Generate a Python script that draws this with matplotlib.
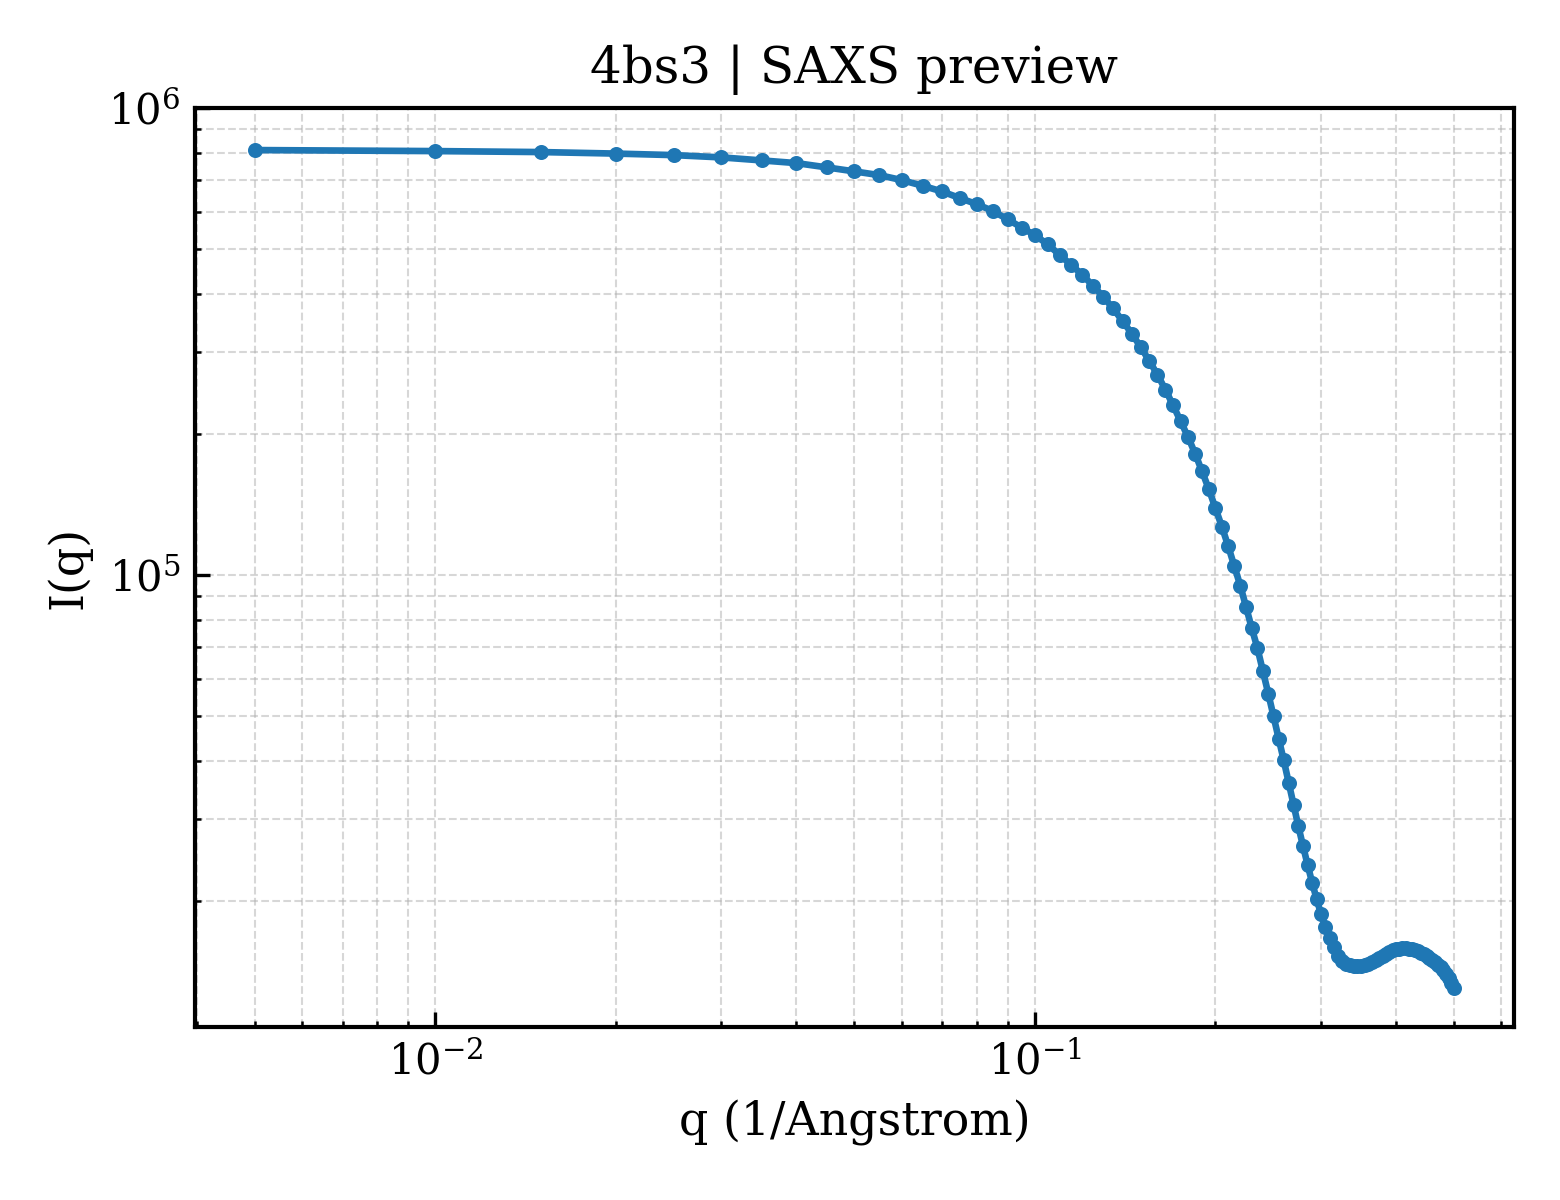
import matplotlib
matplotlib.use("Agg")
import matplotlib.pyplot as plt

q = [
    0.005, 0.010, 0.015, 0.020, 0.025, 0.030, 0.035, 0.040, 0.045, 0.050,
    0.055, 0.060, 0.065, 0.070, 0.075, 0.080, 0.085, 0.090, 0.095, 0.100,
    0.105, 0.110, 0.115, 0.120, 0.125, 0.130, 0.135, 0.140, 0.145, 0.150,
    0.155, 0.160, 0.165, 0.170, 0.175, 0.180, 0.185, 0.190, 0.195, 0.200,
    0.205, 0.210, 0.215, 0.220, 0.225, 0.230, 0.235, 0.240, 0.245, 0.250,
    0.255, 0.260, 0.265, 0.270, 0.275, 0.280, 0.285, 0.290, 0.295, 0.300,
    0.305, 0.310, 0.315, 0.320, 0.325, 0.330, 0.335, 0.340, 0.345, 0.350,
    0.355, 0.360, 0.365, 0.370, 0.375, 0.380, 0.385, 0.390, 0.395, 0.400,
    0.405, 0.410, 0.415, 0.420, 0.425, 0.430, 0.435, 0.440, 0.445, 0.450,
    0.455, 0.460, 0.465, 0.470, 0.475, 0.480, 0.485, 0.490, 0.495, 0.500,
]
intensity = [
    8.127e5, 8.086e5, 8.047e5, 7.987e5, 7.927e5, 7.838e5, 7.723e5, 7.621e5, 7.460e5, 7.315e5,
    7.182e5, 7.007e5, 6.813e5, 6.626e5, 6.411e5, 6.223e5, 6.020e5, 5.779e5, 5.546e5, 5.340e5,
    5.107e5, 4.844e5, 4.610e5, 4.392e5, 4.160e5, 3.944e5, 3.722e5, 3.499e5, 3.289e5, 3.081e5,
    2.879e5, 2.687e5, 2.495e5, 2.308e5, 2.133e5, 1.975e5, 1.819e5, 1.666e5, 1.527e5, 1.390e5,
    1.269e5, 1.154e5, 1.045e5, 9.495e4, 8.536e4, 7.684e4, 6.972e4, 6.223e4, 5.572e4, 4.981e4,
    4.462e4, 4.009e4, 3.590e4, 3.221e4, 2.897e4, 2.625e4, 2.394e4, 2.191e4, 2.024e4, 1.879e4,
    1.765e4, 1.672e4, 1.599e4, 1.529e4, 1.492e4, 1.470e4, 1.459e4, 1.453e4, 1.452e4, 1.452e4,
    1.459e4, 1.470e4, 1.485e4, 1.500e4, 1.515e4, 1.530e4, 1.543e4, 1.556e4, 1.572e4, 1.580e4,
    1.584e4, 1.588e4, 1.588e4, 1.585e4, 1.581e4, 1.574e4, 1.565e4, 1.554e4, 1.544e4, 1.530e4,
    1.515e4, 1.500e4, 1.481e4, 1.463e4, 1.445e4, 1.423e4, 1.395e4, 1.368e4, 1.338e4, 1.307e4,
]

plt.rcParams["font.family"] = ["DejaVu Serif"]
plt.rcParams["mathtext.fontset"] = "dejavuserif"

fig, ax = plt.subplots(figsize=(5.2, 4.0), dpi=300)
fig.subplots_adjust(left=0.125, right=0.9705, bottom=0.1442, top=0.91)

ax.loglog(q, intensity, marker="o", markersize=2.6, linewidth=1.6, color="#1f77b4")
ax.set_ylim(1.077e4, 1e6)

ax.set_title("4bs3 | SAXS preview", fontsize=12)
ax.set_xlabel("q (1/Angstrom)", fontsize=11)
ax.set_ylabel("I(q)", fontsize=11)

ax.grid(True, which="both", linestyle="--", linewidth=0.5, alpha=0.5)
ax.tick_params(which="both", direction="in", labelsize=10)
ax.tick_params(which="major", length=3.5, width=0.8)
ax.tick_params(which="minor", length=1.5, width=0.6)
for sp in ax.spines.values():
    sp.set_linewidth(1.0)

fig.savefig("out.png", dpi=300)
